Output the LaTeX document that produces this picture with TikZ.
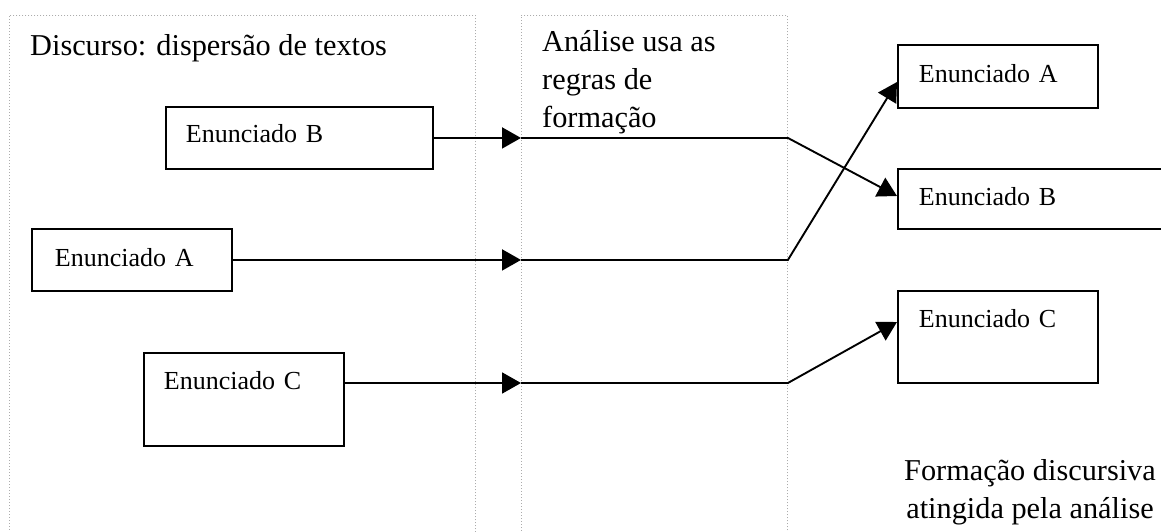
\documentclass[tikz,border=0pt]{standalone}
\usepackage{fontspec}
\setmainfont{Liberation Serif}
\usetikzlibrary{arrows.meta,calc}
\newcommand\myEnFont{\fontsize{26}{31}\selectfont}
\newcommand\myBigFont{\fontsize{30.3}{38}\selectfont}
\begin{document}
\begin{tikzpicture}[x=1pt,y=-1pt,
  ebox/.style={draw, line width=1.9pt, inner xsep=20pt, inner ysep=0pt, align=left, anchor=north west, font=\myEnFont},
  frame/.style={draw=gray!65, line width=0.9pt, dash pattern=on 1pt off 2pt, inner sep=0pt, anchor=north west},
  conn/.style={line width=1.9pt},
  tip/.style={-{Triangle[length=19pt,width=21pt]}},
  big/.style={font=\myBigFont, inner sep=0pt}]
\useasboundingbox (0,0) rectangle (1161,532);
\clip (0,0) rectangle (1161,532);
% dotted frames
\node[frame, minimum width=466pt, minimum height=540pt] (fL) at (9,15) {};
\node[frame, minimum width=266pt, minimum height=540pt] (fM) at (521,15) {};
% titles (anchor=base refers to the last line)
\node[big, anchor=base west] (tD) at (30,56) {Discurso: dispersão de textos};
\node[big, anchor=base west, align=left] (tM) at (542,128) {Análise usa as\\regras de\\formação};
\node[big, anchor=base, align=center] (tF) at (1030,518) {Formação discursiva\\atingida pela análise};
% left boxes
\node[ebox, text width=227pt, text height=36pt, text depth=26pt] (lB) at (165,106) {Enunciado B};
\node[ebox, inner xsep=23pt, text width=154pt, text height=38pt, text depth=24pt] (lA) at (31,228) {Enunciado A};
\node[ebox, text width=160pt, text height=37pt, text depth=56pt] (lC) at (143,352) {Enunciado C};
% right boxes
\node[ebox, inner xsep=21pt, text width=158pt, text height=38pt, text depth=25pt] (rA) at (897,44) {Enunciado A};
\node[ebox, inner xsep=21pt, text width=260pt, text height=37pt, text depth=23pt] (rB) at (897,168) {Enunciado B};
\node[ebox, inner xsep=21pt, text width=158pt, text height=37pt, text depth=55pt] (rC) at (897,290) {Enunciado C};
% connector points
\coordinate (tA) at ($(rA.north west)+(0,38)$);
\coordinate (tB) at ($(rB.north west)+(0,28)$);
\coordinate (tC) at ($(rC.north west)+(0,32)$);
\coordinate (sC) at ($(lC.north east)+(0,31)$);
% connectors
\draw[conn,tip] (lB.east) -- (lB.east -| fM.west);
\draw[conn,tip] (lB.east -| fM.west) -- (lB.east -| fM.east) -- (tB);
\draw[conn,tip] (lA.east) -- (lA.east -| fM.west);
\draw[conn,tip] (lA.east -| fM.west) -- (lA.east -| fM.east) -- (tA);
\draw[conn,tip] (sC) -- (sC -| fM.west);
\draw[conn,tip] (sC -| fM.west) -- (sC -| fM.east) -- (tC);
\end{tikzpicture}
\end{document}
